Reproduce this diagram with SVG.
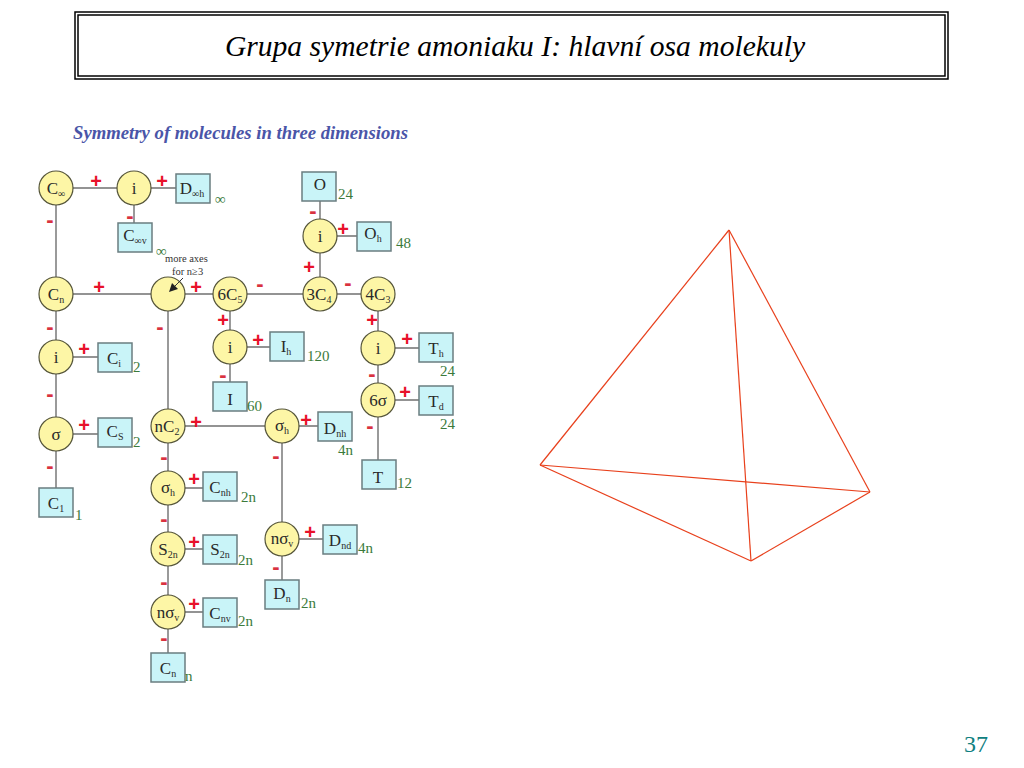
<svg xmlns="http://www.w3.org/2000/svg" width="1024" height="768" viewBox="0 0 1024 768">
<style>
text{font-family:"Liberation Serif","Times New Roman",serif}
.c{fill:#fdf6a6;stroke:#55553a;stroke-width:1.2}
.b{fill:#c9f4f8;stroke:#6a7d80;stroke-width:1.5}
.l{font-size:17px;fill:#2a2a2a;text-anchor:middle}
.s{font-size:10px}
.g{font-size:15px;fill:#3b7a3b}
.p{font-size:20px;font-weight:bold;fill:#e8112a;text-anchor:middle;font-family:"Liberation Sans",sans-serif;transform:translateY(1px)}
.m{font-size:22px;font-weight:bold;fill:#d9323f;text-anchor:middle;font-family:"Liberation Sans",sans-serif;transform:translateY(2px)}
#connectors line{stroke:#6f6f6f;stroke-width:1.4}
.t line{stroke:#e8401c;stroke-width:1.2}
</style>
<rect width="1024" height="768" fill="#fff"/>
<g id="title">
<rect x="75" y="12" width="873" height="67" fill="#fff" stroke="#000" stroke-width="1.5"/>
<rect x="78" y="15" width="867" height="61" fill="none" stroke="#000" stroke-width="1.5"/>
<text x="515" y="56" text-anchor="middle" font-size="29.6" font-style="italic" fill="#000">Grupa symetrie amoniaku I: hlavní osa molekuly</text>
</g>
<text x="73" y="139" font-size="18" font-weight="bold" font-style="italic" fill="#4a55a8" textLength="335" lengthAdjust="spacingAndGlyphs">Symmetry of molecules in three dimensions</text>
<g id="connectors">
<line x1="56" y1="188" x2="192" y2="188"/><line x1="134" y1="188" x2="134" y2="235"/>
<line x1="56" y1="188" x2="56" y2="505"/><line x1="56" y1="294" x2="378" y2="294"/>
<line x1="56" y1="357" x2="115" y2="357"/><line x1="56" y1="434" x2="115" y2="434"/>
<line x1="168" y1="294" x2="168" y2="665"/><line x1="168" y1="426" x2="282" y2="426"/>
<line x1="168" y1="488" x2="220" y2="488"/><line x1="168" y1="549" x2="220" y2="549"/><line x1="168" y1="612" x2="220" y2="612"/>
<line x1="230" y1="294" x2="230" y2="395"/><line x1="230" y1="347" x2="287" y2="347"/>
<line x1="320" y1="186" x2="320" y2="294"/><line x1="320" y1="236" x2="374" y2="236"/>
<line x1="378" y1="294" x2="378" y2="475"/><line x1="378" y1="348" x2="436" y2="348"/><line x1="378" y1="400" x2="436" y2="400"/>
<line x1="282" y1="426" x2="335" y2="426"/><line x1="282" y1="426" x2="282" y2="595"/><line x1="282" y1="539" x2="340" y2="539"/>
</g>
<g id="n-cinf"><circle class="c" cx="56" cy="188" r="17"/><text class="l" x="56" y="194">C<tspan class="s" dy="3">∞</tspan></text></g>
<g id="n-i1"><circle class="c" cx="134" cy="188" r="17"/><text class="l" x="134" y="194">i</text></g>
<g id="n-dinfh"><rect class="b" x="176" y="174" width="34" height="29"/><text class="l" x="192" y="194">D<tspan class="s" dy="3">∞h</tspan></text></g>
<g id="n-cinfv"><rect class="b" x="118" y="223" width="34" height="29"/><text class="l" x="135" y="241">C<tspan class="s" dy="3">∞v</tspan></text></g>
<g id="n-cn"><circle class="c" cx="56" cy="294" r="17"/><text class="l" x="56" y="300">C<tspan class="s" dy="3">n</tspan></text></g>
<g id="n-more"><circle class="c" cx="168" cy="294" r="17"/>
<path d="M183 278L173 288" stroke="#333" stroke-width="1" fill="none"/><path d="M169 292L178 289L172 283Z" fill="#222"/></g>
<g id="n-6c5"><circle class="c" cx="230" cy="294" r="17"/><text class="l" x="230" y="300">6C<tspan class="s" dy="3">5</tspan></text></g>
<g id="n-3c4"><circle class="c" cx="320" cy="294" r="17"/><text class="l" x="319" y="300">3C<tspan class="s" dy="3">4</tspan></text></g>
<g id="n-4c3"><circle class="c" cx="378" cy="294" r="17"/><text class="l" x="378" y="300">4C<tspan class="s" dy="3">3</tspan></text></g>
<g id="n-i-o"><circle class="c" cx="320" cy="236" r="17"/><text class="l" x="320" y="242">i</text></g>
<g id="n-o"><rect class="b" x="302" y="172" width="34" height="29"/><text class="l" x="320" y="190">O</text></g>
<g id="n-oh"><rect class="b" x="357" y="222" width="34" height="29"/><text class="l" x="373" y="239">O<tspan class="s" dy="3">h</tspan></text></g>
<g id="n-i-t"><circle class="c" cx="378" cy="348" r="17"/><text class="l" x="378" y="354">i</text></g>
<g id="n-th"><rect class="b" x="419" y="333" width="34" height="29"/><text class="l" x="436" y="354">T<tspan class="s" dy="3">h</tspan></text></g>
<g id="n-6s"><circle class="c" cx="378" cy="400" r="17"/><text class="l" x="378" y="406">6σ</text></g>
<g id="n-td"><rect class="b" x="419" y="386" width="34" height="29"/><text class="l" x="436" y="407">T<tspan class="s" dy="3">d</tspan></text></g>
<g id="n-t"><rect class="b" x="362" y="460" width="34" height="29"/><text class="l" x="378" y="483">T</text></g>
<g id="n-i-c"><circle class="c" cx="56" cy="357" r="17"/><text class="l" x="56" y="363">i</text></g>
<g id="n-ci"><rect class="b" x="98" y="343" width="34" height="29"/><text class="l" x="114" y="364">C<tspan class="s" dy="3">i</tspan></text></g>
<g id="n-s"><circle class="c" cx="56" cy="434" r="17"/><text class="l" x="56" y="440">σ</text></g>
<g id="n-cs"><rect class="b" x="98" y="418" width="34" height="29"/><text class="l" x="115" y="437">C<tspan class="s" dy="3">S</tspan></text></g>
<g id="n-c1"><rect class="b" x="39" y="488" width="34" height="29"/><text class="l" x="56" y="509">C<tspan class="s" dy="3">1</tspan></text></g>
<g id="n-nc2"><circle class="c" cx="168" cy="426" r="17"/><text class="l" x="167" y="432">nC<tspan class="s" dy="3">2</tspan></text></g>
<g id="n-sh"><circle class="c" cx="168" cy="488" r="17"/><text class="l" x="168" y="493">σ<tspan class="s" dy="3">h</tspan></text></g>
<g id="n-s2n"><circle class="c" cx="168" cy="549" r="17"/><text class="l" x="168" y="555">S<tspan class="s" dy="3">2n</tspan></text></g>
<g id="n-nsv"><circle class="c" cx="168" cy="612" r="17"/><text class="l" x="168" y="618">nσ<tspan class="s" dy="3">v</tspan></text></g>
<g id="n-cn2"><rect class="b" x="151" y="653" width="34" height="29"/><text class="l" x="168" y="674">C<tspan class="s" dy="3">n</tspan></text></g>
<g id="n-cnh"><rect class="b" x="203" y="472" width="34" height="29"/><text class="l" x="220" y="493">C<tspan class="s" dy="3">nh</tspan></text></g>
<g id="n-s2nb"><rect class="b" x="203" y="535" width="34" height="29"/><text class="l" x="220" y="555">S<tspan class="s" dy="3">2n</tspan></text></g>
<g id="n-cnv"><rect class="b" x="203" y="598" width="34" height="29"/><text class="l" x="220" y="619">C<tspan class="s" dy="3">nv</tspan></text></g>
<g id="n-i-i"><circle class="c" cx="230" cy="347" r="17"/><text class="l" x="230" y="353">i</text></g>
<g id="n-ih"><rect class="b" x="270" y="332" width="34" height="29"/><text class="l" x="286" y="352">I<tspan class="s" dy="3">h</tspan></text></g>
<g id="n-i"><rect class="b" x="213" y="382" width="34" height="29"/><text class="l" x="230" y="405">I</text></g>
<g id="n-sh2"><circle class="c" cx="282" cy="426" r="17"/><text class="l" x="282" y="431">σ<tspan class="s" dy="3">h</tspan></text></g>
<g id="n-dnh"><rect class="b" x="318" y="412" width="34" height="29"/><text class="l" x="335" y="434">D<tspan class="s" dy="3">nh</tspan></text></g>
<g id="n-nsv2"><circle class="c" cx="282" cy="539" r="17"/><text class="l" x="282" y="544">nσ<tspan class="s" dy="3">v</tspan></text></g>
<g id="n-dnd"><rect class="b" x="323" y="525" width="34" height="29"/><text class="l" x="340" y="546">D<tspan class="s" dy="3">nd</tspan></text></g>
<g id="n-dn"><rect class="b" x="265" y="580" width="34" height="29"/><text class="l" x="282" y="599">D<tspan class="s" dy="3">n</tspan></text></g>
<g id="signs">
<text class="p" x="96" y="187">+</text><text class="p" x="162" y="187">+</text><text class="m" x="50" y="225">-</text><text class="m" x="130" y="221">-</text>
<text class="p" x="99" y="293">+</text><text class="p" x="196" y="293">+</text><text class="m" x="260" y="289">-</text><text class="m" x="348" y="288">-</text>
<text class="m" x="50" y="332">-</text><text class="p" x="84" y="355">+</text><text class="m" x="50" y="399">-</text><text class="p" x="84" y="431">+</text><text class="m" x="50" y="471">-</text>
<text class="m" x="160" y="332">-</text><text class="p" x="196" y="428">+</text><text class="m" x="164" y="462">-</text><text class="p" x="194" y="485">+</text><text class="m" x="164" y="524">-</text>
<text class="p" x="194" y="548">+</text><text class="m" x="164" y="587">-</text><text class="p" x="194" y="610">+</text><text class="m" x="164" y="643">-</text>
<text class="p" x="223" y="326">+</text><text class="p" x="258" y="346">+</text><text class="m" x="223" y="380">-</text>
<text class="m" x="313" y="216">-</text><text class="p" x="343" y="235">+</text><text class="p" x="309" y="273">+</text>
<text class="p" x="372" y="326">+</text><text class="p" x="407" y="345">+</text><text class="m" x="372" y="379">-</text><text class="p" x="405" y="398">+</text><text class="m" x="370" y="431">-</text>
<text class="p" x="306" y="426">+</text><text class="m" x="276" y="461">-</text><text class="p" x="310" y="538">+</text><text class="m" x="276" y="572">-</text>
</g>
<g id="counts">
<text class="g" x="215" y="204">∞</text><text class="g" x="156" y="256">∞</text>
<text class="g" x="338" y="199">24</text><text class="g" x="396" y="248">48</text><text class="g" x="307" y="361">120</text>
<text class="g" x="247" y="411">60</text><text class="g" x="440" y="376">24</text><text class="g" x="440" y="429">24</text><text class="g" x="397" y="488">12</text>
<text class="g" x="133" y="372">2</text><text class="g" x="133" y="447">2</text><text class="g" x="75" y="520">1</text>
<text class="g" x="338" y="455">4n</text><text class="g" x="241" y="502">2n</text><text class="g" x="238" y="565">2n</text><text class="g" x="238" y="626">2n</text>
<text class="g" x="358" y="553">4n</text><text class="g" x="301" y="608">2n</text><text class="g" x="185" y="681">n</text>
</g>
<text x="165" y="262" font-size="10.5" fill="#333">more axes</text>
<text x="172" y="275" font-size="10.5" fill="#333">for n≥3</text>
<g id="tetrahedron" class="t">
<line x1="729" y1="230" x2="540" y2="465"/><line x1="729" y1="230" x2="870" y2="492"/><line x1="729" y1="230" x2="751" y2="561"/>
<line x1="540" y1="465" x2="870" y2="492"/><line x1="540" y1="465" x2="751" y2="561"/><line x1="751" y1="561" x2="870" y2="492"/>
</g>
<text x="976" y="752" text-anchor="middle" font-size="24" fill="#0f8080">37</text>
</svg>
